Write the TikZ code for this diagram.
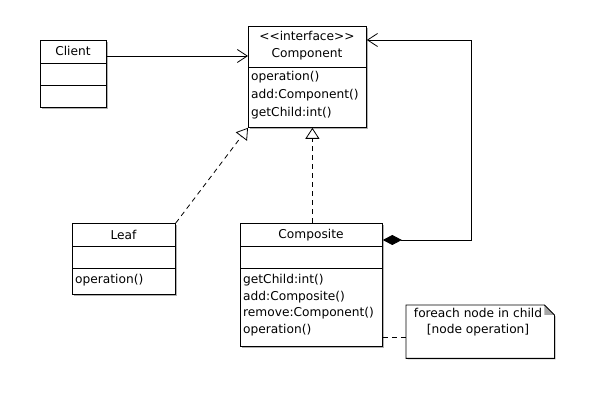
\documentclass[tikz,border=0pt]{standalone}
\usepackage{fontspec}
\setmainfont{DejaVu Sans}
\usetikzlibrary{arrows.meta,shadows,calc}
\begin{document}
\begin{tikzpicture}[x=1pt,y=-1pt,
  every node/.style={font=\fontsize{12.2}{16.5}\selectfont, inner sep=0pt},
  cls/.style={draw, fill=white, line width=0.8pt, anchor=north west,
    drop shadow={shadow xshift=1.5pt, shadow yshift=-1.5pt, fill=black, opacity=0.3}},
  sep/.style={line width=0.8pt},
  txt/.style={anchor=west},
  ttl/.style={anchor=center},
  assoc/.style={line width=0.8pt, -{Straight Barb[length=10pt,width=13pt,line width=0.8pt]}},
  realize/.style={line width=0.8pt, dash pattern=on 5pt off 4pt, -{Triangle[open,fill=white,length=11pt,width=14pt,line width=0.8pt]}},
  compo/.style={line width=0.8pt, {Diamond[length=19pt,width=10pt]}-{Straight Barb[length=10pt,width=13pt,line width=0.8pt]}},
  notelink/.style={line width=0.8pt, dash pattern=on 5pt off 4pt}
]
\useasboundingbox[fill=white] (0,0) rectangle (597,419);

% Client
\node[cls, minimum width=66, minimum height=67] (client) at (40,40) {};
\draw[sep] (40,63) -- (106,63);
\draw[sep] (40,85) -- (106,85);
\node[ttl] (clientname) at (73,51) {Client};

% Component
\node[cls, minimum width=118, minimum height=101] (component) at (248,26) {};
\draw[sep] (248,67) -- (366,67);
\node[ttl] (compst) at (307,36) {<{}<interface>{}>};
\node[ttl] (compname) at (307,54) {Component};
\node[txt] (c1) at (251,77) {operation()};
\node[txt] (c2) at (251,95) {add:Component()};
\node[txt] (c3) at (251,113) {getChild:int()};

% Leaf
\node[cls, minimum width=103, minimum height=71] (leaf) at (72,223) {};
\draw[sep] (72,246) -- (175,246);
\draw[sep] (72,268) -- (175,268);
\node[ttl] (leafname) at (123.5,235) {Leaf};
\node[txt] (l1) at (75,280) {operation()};

% Composite
\node[cls, minimum width=142, minimum height=123] (composite) at (240,223) {};
\draw[sep] (240,246) -- (382,246);
\draw[sep] (240,268) -- (382,268);
\node[ttl] (compositename) at (311,235) {Composite};
\node[txt] (k1) at (243,280) {getChild:int()};
\node[txt] (k2) at (243,297) {add:Composite()};
\node[txt] (k3) at (243,313) {remove:Component()};
\node[txt] (k4) at (243,330) {operation()};

% Note
\node[minimum width=148, minimum height=53, anchor=north west] (note) at (406,305) {};
\fill[black, opacity=0.3] (407.5,306.5) -- (545.5,306.5) -- (555.5,316.5) -- (555.5,359.5) -- (407.5,359.5) -- cycle;
\draw[line width=0.8pt, fill=white] (note.north west) -- ($(note.north east)+(-10,0)$) -- ($(note.north east)+(0,10)$) -- (note.south east) -- (note.south west) -- cycle;
\fill[gray!70] ($(note.north east)+(-10,0)$) -- ($(note.north east)+(0,10)$) -- ($(note.north east)+(-10,10)$) -- cycle;
\draw[line width=0.8pt] ($(note.north east)+(-10,0)$) -- ($(note.north east)+(0,10)$);
\node[align=center, anchor=north] (notetext) at (478,308) {foreach node in child\\{}[node operation]};

% Connectors
\draw[assoc] ($(client.north east)+(0,16)$) -- ($(component.north west)+(0,30)$);
\draw[realize] (leaf.north east) -- (component.south west);
\draw[realize] ($(composite.north)+(1,0)$) -- ($(composite.north |- component.south)+(1,0)$);
\coordinate (turn) at (471,40);
\draw[compo] ($(composite.north east)+(0,17)$) -| (turn) -- ($(component.north east)+(0,14)$);
\draw[notelink] ($(composite.south east)+(0,-9)$) -- ($(note.west |- composite.south east)+(0,-9)$);
\end{tikzpicture}
\end{document}
